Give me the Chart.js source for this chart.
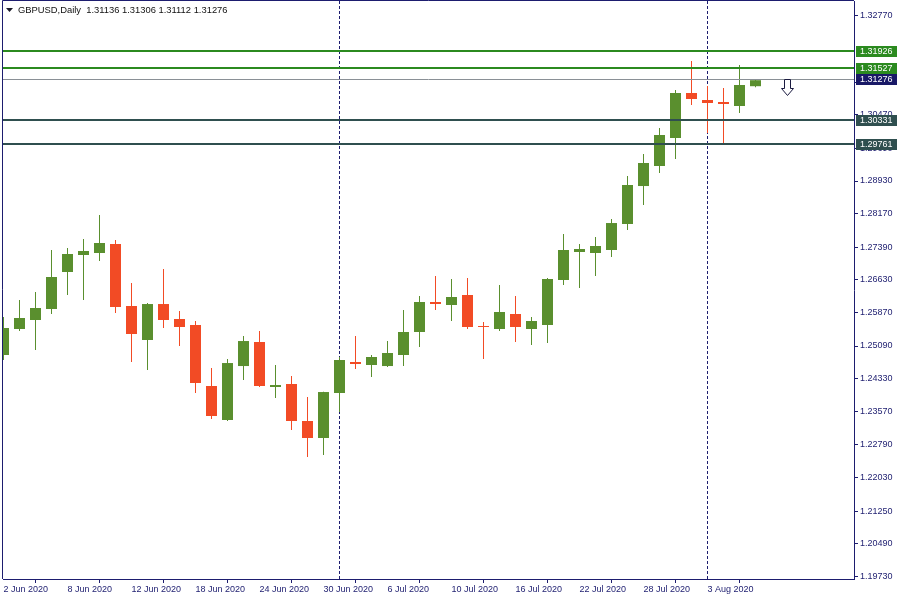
<!DOCTYPE html>
<html>
<head>
<meta charset="utf-8">
<script src="https://cdn.jsdelivr.net/npm/chart.js@4.4.0/dist/chart.umd.min.js"></script>
<style>
  html, body { margin: 0; padding: 0; background: #fff; }
  #wrap { width: 900px; height: 600px; }
</style>
</head>
<body>
<div id="wrap"><canvas id="chart" width="900" height="600"></canvas></div>
<script>
// GBPUSD daily bars, 2 Jun - 6 Aug 2020
const symbol = 'GBPUSD,Daily';
const dates = [
  '2020-06-02','2020-06-03','2020-06-04','2020-06-05','2020-06-08','2020-06-09','2020-06-10','2020-06-11','2020-06-12',
  '2020-06-15','2020-06-16','2020-06-17','2020-06-18','2020-06-19','2020-06-22','2020-06-23','2020-06-24','2020-06-25',
  '2020-06-26','2020-06-29','2020-06-30','2020-07-01','2020-07-02','2020-07-03','2020-07-06','2020-07-07','2020-07-08',
  '2020-07-09','2020-07-10','2020-07-13','2020-07-14','2020-07-15','2020-07-16','2020-07-17','2020-07-20','2020-07-21',
  '2020-07-22','2020-07-23','2020-07-24','2020-07-27','2020-07-28','2020-07-29','2020-07-30','2020-07-31','2020-08-03',
  '2020-08-04','2020-08-05','2020-08-06'
];
const opens = [
  1.24881, 1.25486, 1.25695, 1.25951, 1.26812, 1.27208, 1.27254, 1.27464, 1.26021,
  1.25230, 1.26067, 1.25718, 1.25579, 1.24159, 1.23368, 1.24624, 1.25183, 1.24136,
  1.24206, 1.23345, 1.22949, 1.23996, 1.24718, 1.24648, 1.24624, 1.24881, 1.25416,
  1.26114, 1.26044, 1.26277, 1.25555, 1.25486, 1.25835, 1.25486, 1.25579, 1.26626,
  1.27278, 1.27254, 1.27324, 1.27929, 1.28813, 1.29279, 1.29931, 1.30978, 1.30815,
  1.30768, 1.30675, 1.31136
];
const highs = [
  1.25765, 1.26160, 1.26347, 1.27324, 1.27371, 1.27580, 1.28139, 1.27557, 1.26556,
  1.26091, 1.26882, 1.25904, 1.25672, 1.24578, 1.24787, 1.25323, 1.25439, 1.24648,
  1.24392, 1.23903, 1.24025, 1.24834, 1.25323, 1.24881, 1.25206, 1.25928, 1.26254,
  1.26719, 1.26649, 1.26672, 1.25648, 1.26510, 1.26254, 1.25765, 1.26672, 1.27696,
  1.27464, 1.27627, 1.28045, 1.29046, 1.29558, 1.30163, 1.31048, 1.31722, 1.31141,
  1.31094, 1.31629, 1.31306
];
const lows = [
  1.24764, 1.25439, 1.24997, 1.25835, 1.26277, 1.26160, 1.27068, 1.25858, 1.24718,
  1.24531, 1.25509, 1.25090, 1.23996, 1.23391, 1.23345, 1.24299, 1.24136, 1.23880,
  1.23135, 1.22507, 1.22553, 1.23554, 1.24555, 1.24369, 1.24601, 1.24624, 1.25067,
  1.25928, 1.25672, 1.25486, 1.24787, 1.25439, 1.25183, 1.25113, 1.25160, 1.26510,
  1.26440, 1.26719, 1.27161, 1.27789, 1.28371, 1.29116, 1.29442, 1.30698, 1.30047,
  1.29791, 1.30512, 1.31112
];
const closes = [
  1.25509, 1.25742, 1.25974, 1.26696, 1.27231, 1.27301, 1.27487, 1.25998, 1.25369,
  1.26067, 1.25695, 1.25532, 1.24229, 1.23461, 1.24694, 1.25206, 1.24159, 1.24182,
  1.23345, 1.22949, 1.24019, 1.24764, 1.24671, 1.24834, 1.24927, 1.25416, 1.26114,
  1.26067, 1.26230, 1.25532, 1.25532, 1.25881, 1.25532, 1.25672, 1.26649, 1.27324,
  1.27347, 1.27417, 1.27952, 1.28837, 1.29349, 1.30000, 1.30978, 1.30838, 1.30745,
  1.30722, 1.31164, 1.31276
];

// price axis labels (the ones under the level boxes are partly covered)
const yTicks = [1.32770, 1.31230, 1.30470, 1.29690, 1.28930, 1.28170, 1.27390, 1.26630,
  1.25870, 1.25090, 1.24330, 1.23570, 1.22790, 1.22030, 1.21250, 1.20490, 1.19730];
const levelPrices = [1.31926, 1.31527, 1.30331, 1.29761];
const levelColors = ['#2b8a1f', '#2b8a1f', '#2f4f4f', '#2f4f4f'];
const bidPrice = 1.31276;
const signalIdx = 49;          // sell arrow, two bars past the last one
const signalPrice = 1.31306;
const labelEvery = 4;

const yMin = 1.19668, yMax = 1.33119;
const xMin = -0.03125, xMax = 53.15625;

const navy = '#1d1d6f';
const upColor = '#5a8f2e';
const downColor = '#f24b25';
const font = '"Liberation Sans", Arial, sans-serif';
const months = ['Jan','Feb','Mar','Apr','May','Jun','Jul','Aug','Sep','Oct','Nov','Dec'];

function fmtDate(s) {
  const [y, m, d] = s.split('-');
  return parseInt(d, 10) + ' ' + months[parseInt(m, 10) - 1] + ' ' + y;
}

const xTickIdx = dates.map((d, i) => i).filter(i => i % labelEvery === 0);
// monthly period separators: first bar of each new month
const sepIdx = dates.map((d, i) => i).filter(i => i > 0 && dates[i].slice(5, 7) !== dates[i - 1].slice(5, 7));

const barColors = dates.map((d, i) => closes[i] >= opens[i] ? upColor : downColor);
const wickData = dates.map((d, i) => ({ x: i, y: [lows[i], highs[i]] }));
const bodyData = dates.map((d, i) => ({ x: i, y: [opens[i], closes[i]] }));

const overlay = {
  id: 'overlay',
  beforeDatasetsDraw(chart) {
    const { ctx, chartArea: a, scales } = chart;
    ctx.save();
    ctx.strokeStyle = navy;
    ctx.lineWidth = 1;
    ctx.setLineDash([3, 2]);
    sepIdx.forEach(i => {
      const x = Math.floor(scales.x.getPixelForValue(i)) + 0.5;
      ctx.beginPath();
      ctx.moveTo(x, a.top);
      ctx.lineTo(x, a.bottom);
      ctx.stroke();
    });
    ctx.restore();
  },
  afterDatasetsDraw(chart) {
    const { ctx, chartArea: a, scales } = chart;
    ctx.save();
    // bid line
    const by = Math.round(scales.y.getPixelForValue(bidPrice)) - 0.5;
    ctx.strokeStyle = '#8a9096';
    ctx.lineWidth = 1;
    ctx.beginPath();
    ctx.moveTo(a.left, by);
    ctx.lineTo(a.right, by);
    ctx.stroke();
    // horizontal levels
    levelPrices.forEach((p, k) => {
      const y = Math.round(scales.y.getPixelForValue(p)) - 1;
      ctx.strokeStyle = levelColors[k];
      ctx.lineWidth = 2;
      ctx.beginPath();
      ctx.moveTo(a.left, y);
      ctx.lineTo(a.right, y);
      ctx.stroke();
    });
    ctx.restore();
  },
  afterDraw(chart) {
    const { ctx, chartArea: a, scales } = chart;
    ctx.save();
    // chart frame, left and top
    ctx.strokeStyle = navy;
    ctx.lineWidth = 1;
    ctx.beginPath();
    ctx.moveTo(a.left - 0.5, a.bottom);
    ctx.lineTo(a.left - 0.5, 0.5);
    ctx.lineTo(a.right, 0.5);
    ctx.stroke();

    // price boxes on the axis
    ctx.font = '9px ' + font;
    ctx.textBaseline = 'middle';
    ctx.textAlign = 'left';
    const boxes = levelPrices.map((p, k) => [p, levelColors[k]]).concat([[bidPrice, '#191966']]);
    boxes.forEach(([p, c]) => {
      const y = Math.round(scales.y.getPixelForValue(p)) - 1;
      ctx.fillStyle = c;
      ctx.fillRect(a.right + 2, y - 5, 41, 11);
      ctx.fillStyle = '#ffffff';
      ctx.fillText(p.toFixed(5), a.right + 6, y + 0.5);
    });

    // sell arrow
    const cx = Math.round(scales.x.getPixelForValue(signalIdx)) - 0.5;
    const top = Math.round(scales.y.getPixelForValue(signalPrice)) + 0.5;
    ctx.beginPath();
    ctx.moveTo(cx - 3, top);
    ctx.lineTo(cx + 3, top);
    ctx.lineTo(cx + 3, top + 9);
    ctx.lineTo(cx + 6, top + 9);
    ctx.lineTo(cx, top + 16);
    ctx.lineTo(cx - 6, top + 9);
    ctx.lineTo(cx - 3, top + 9);
    ctx.closePath();
    ctx.fillStyle = '#ffffff';
    ctx.fill();
    ctx.strokeStyle = '#1a1a40';
    ctx.stroke();

    // header
    ctx.fillStyle = '#1a1a2a';
    ctx.beginPath();
    ctx.moveTo(6, 8);
    ctx.lineTo(13, 8);
    ctx.lineTo(9.5, 12);
    ctx.closePath();
    ctx.fill();
    const n = closes.length - 1;
    const hdr = symbol + '  ' + [opens[n], highs[n], lows[n], closes[n]].map(v => v.toFixed(5)).join(' ');
    ctx.font = '9.4px ' + font;
    ctx.fillStyle = '#111111';
    ctx.fillText(hdr, 18, 10.5);
    ctx.restore();
  }
};

const ctx = document.getElementById('chart').getContext('2d');
const chart = new Chart(ctx, {
  type: 'bar',
  data: {
    datasets: [
      {
        label: 'wick',
        data: wickData,
        backgroundColor: barColors,
        barThickness: 1,
        borderWidth: 0,
        inflateAmount: 0,
        grouped: false,
        clip: 0,
        order: 2
      },
      {
        label: 'body',
        data: bodyData,
        backgroundColor: barColors,
        barThickness: 11,
        borderWidth: 0,
        inflateAmount: 0,
        grouped: false,
        clip: 0,
        order: 1
      }
    ]
  },
  options: {
    responsive: false,
    animation: false,
    layout: { padding: { left: 3, top: 1, right: 0, bottom: 0 } },
    plugins: { legend: { display: false }, tooltip: { enabled: false } },
    scales: {
      x: {
        type: 'linear',
        offset: false,
        min: xMin,
        max: xMax,
        afterBuildTicks: (scale) => { scale.ticks = xTickIdx.map(v => ({ value: v })); },
        afterFit: (scale) => { scale.height = 21; scale.paddingLeft = 0; scale.paddingRight = 0; },
        grid: { drawOnChartArea: false, drawTicks: true, tickLength: 4, tickColor: navy },
        border: { color: navy, width: 1 },
        ticks: {
          autoSkip: false,
          maxRotation: 0,
          align: 'start',
          padding: 1,
          color: navy,
          font: { family: font, size: 9 },
          callback: (v) => fmtDate(dates[v])
        }
      },
      y: {
        position: 'right',
        min: yMin,
        max: yMax,
        afterBuildTicks: (scale) => { scale.ticks = yTicks.map(v => ({ value: v })); },
        afterFit: (scale) => { scale.width = 46; scale.paddingTop = 0; scale.paddingBottom = 0; },
        grid: { drawOnChartArea: false, drawTicks: true, tickLength: 4, tickColor: navy },
        border: { color: navy, width: 1 },
        ticks: {
          autoSkip: false,
          padding: 2,
          color: navy,
          font: { family: font, size: 9 },
          callback: (v) => v.toFixed(5)
        }
      }
    }
  },
  plugins: [overlay]
});
</script>
</body>
</html>
